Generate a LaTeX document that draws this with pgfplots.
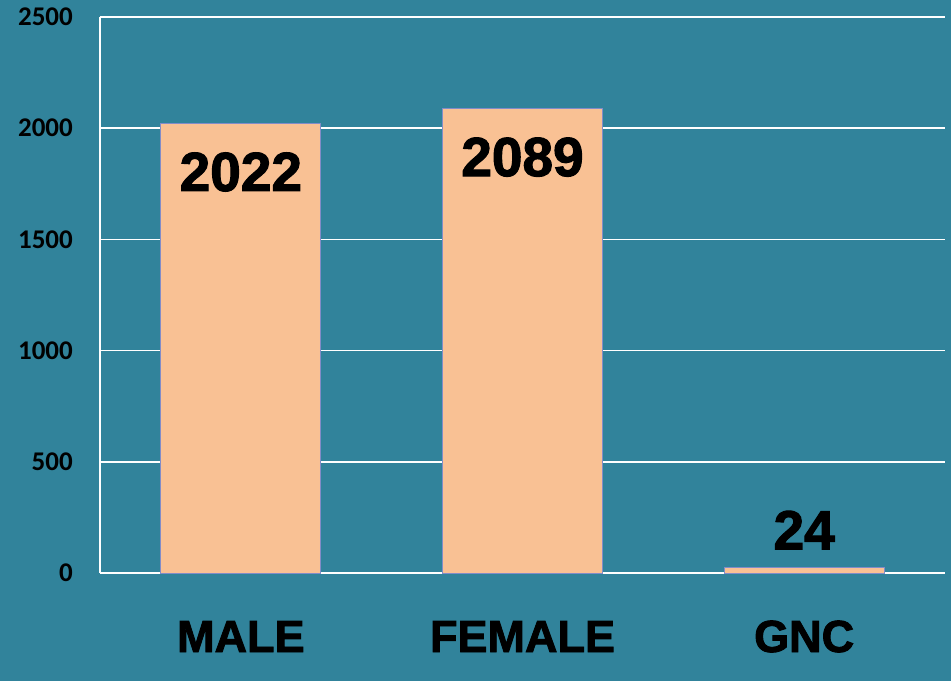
\documentclass[border=0pt]{standalone}
\usepackage{pgfplots}
\pgfplotsset{compat=1.18}
\usepackage{fontspec}
\setmainfont{Liberation Sans}
\newfontfamily\carlito{Carlito}
\newfontfamily\heavy{Liberation Sans}[BoldFeatures={FakeBold=2}]
\definecolor{bgteal}{RGB}{49,131,155}
\definecolor{peach}{RGB}{249,193,148}
\definecolor{barline}{RGB}{130,140,200}
\begin{document}
\begin{tikzpicture}
\fill[bgteal] (0,0) rectangle (951bp,681bp);
\path[use as bounding box] (0,0) rectangle (951bp,681bp);
\begin{axis}[
  at={(100bp,108bp)}, anchor=south west,
  scale only axis, width=845bp, height=556bp,
  xmin=-0.5, xmax=2.5, ymin=0, ymax=2500,
  enlargelimits=false, clip=false,
  axis x line*=bottom, axis y line*=left,
  axis line style={white, line width=1.6bp},
  ymajorgrids, grid style={white, line width=1.6bp},
  major tick length=0pt,
  xtick={0,1,2}, xticklabels={MALE,FEMALE,GNC},
  ytick={0,500,1000,1500,2000,2500},
  /pgf/number format/.cd, 1000 sep={}, assume math mode=true,
  /pgfplots/.cd,
  xticklabel style={anchor=base, yshift=-79bp, inner sep=0pt, font=\fontsize{45bp}{50bp}\selectfont\heavy\bfseries, text=black},
  yticklabel style={anchor=east, xshift=-27bp, inner sep=0pt, font=\fontsize{27bp}{30bp}\selectfont\carlito\bfseries, text=black},
  ybar, bar width=160bp,
]
\addplot[fill=peach, draw=barline, line width=0.8bp] coordinates {(0,2022) (1,2089) (2,24)};
\node[font=\fontsize{55bp}{60bp}\selectfont\heavy\bfseries] at (axis cs:0,1803) {2022};
\node[font=\fontsize{55bp}{60bp}\selectfont\heavy\bfseries] at (axis cs:1,1870) {2089};
\node[font=\fontsize{55bp}{60bp}\selectfont\heavy\bfseries] at (axis cs:2,193) {24};
\end{axis}
\end{tikzpicture}
\end{document}
